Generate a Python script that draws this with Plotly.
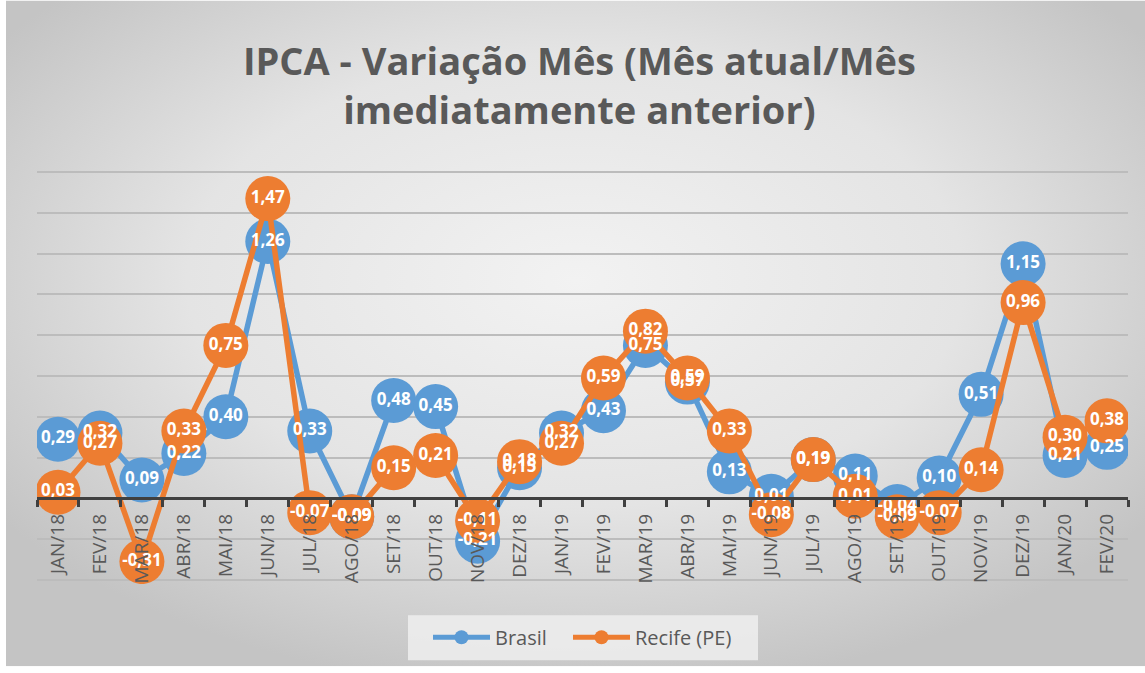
import base64
import plotly.graph_objects as go

meses = ["JAN/18", "FEV/18", "MAR/18", "ABR/18", "MAI/18", "JUN/18", "JUL/18", "AGO/18",
         "SET/18", "OUT/18", "NOV/18", "DEZ/18", "JAN/19", "FEV/19", "MAR/19", "ABR/19",
         "MAI/19", "JUN/19", "JUL/19", "AGO/19", "SET/19", "OUT/19", "NOV/19", "DEZ/19",
         "JAN/20", "FEV/20"]
brasil = [0.29, 0.32, 0.09, 0.22, 0.40, 1.26, 0.33, -0.09, 0.48, 0.45, -0.21, 0.15, 0.32,
          0.43, 0.75, 0.57, 0.13, 0.01, 0.19, 0.11, -0.04, 0.10, 0.51, 1.15, 0.21, 0.25]
recife = [0.03, 0.27, -0.31, 0.33, 0.75, 1.47, -0.07, -0.09, 0.15, 0.21, -0.11, 0.18, 0.27,
          0.59, 0.82, 0.59, 0.33, -0.08, 0.19, 0.01, -0.09, -0.07, 0.14, 0.96, 0.30, 0.38]
series_names = ["Brasil", "Recife (PE)"]

BLUE = "#5b9bd5"
ORANGE = "#ed7d31"
GRAY_TXT = "#595959"
FONT = "Open Sans"

W, H = 1145, 673
YMIN, YMAX = -0.42, 1.62
UNIT = 204.0          # px per unit on y
ZERO_PX = 498.0       # pixel row of y = 0
ML, MR = 37, 17
MT = ZERO_PX - YMAX * UNIT
MB = H - (ZERO_PX - YMIN * UNIT)


def fmt(v):
    return f"{v:.2f}".replace(".", ",")


fig = go.Figure()
cols = [BLUE, ORANGE]
for name, vals, col in zip(series_names, [brasil, recife], cols):
    fig.add_trace(go.Scatter(
        x=meses, y=vals, mode="lines+markers", name=name, showlegend=False,
        line=dict(color=col, width=5.5),
        marker=dict(size=45, color=col),
        hoverinfo="skip"))
for name, vals, col in zip(series_names, [brasil, recife], cols):
    fig.add_trace(go.Scatter(
        x=meses, y=vals, mode="text", showlegend=False,
        text=[fmt(v) for v in vals], textposition="middle center",
        textfont=dict(family=FONT, size=17, color="white", weight="bold"),
        hoverinfo="skip"))

pw = W - ML - MR
ph = H - MT - MB


def px_to_paper_x(p):
    return (p - ML) / pw


def px_to_paper_y(p):
    return (H - MB - p) / ph


# gradient background
svg = f'''<svg xmlns="http://www.w3.org/2000/svg" width="{W}" height="{H}" viewBox="0 0 {W} {H}" preserveAspectRatio="none">
<defs><radialGradient id="g" cx="0.5" cy="0.42" r="0.62" gradientUnits="objectBoundingBox">
<stop offset="0" stop-color="#f2f2f2"/><stop offset="0.55" stop-color="#e4e4e4"/><stop offset="1" stop-color="#c4c4c4"/>
</radialGradient></defs>
<rect x="0" y="0" width="{W}" height="{H}" fill="url(#g)"/></svg>'''
src = "data:image/svg+xml;base64," + base64.b64encode(svg.encode()).decode()

x0 = px_to_paper_x(6)
x1 = px_to_paper_x(W)
ytop = px_to_paper_y(0)
ybot = px_to_paper_y(666)
fig.add_layout_image(dict(
    source=src, xref="paper", yref="paper", x=x0, y=ytop,
    sizex=x1 - x0, sizey=ytop - ybot, sizing="stretch",
    xanchor="left", yanchor="top", layer="below"))

# custom legend (box, symbols, labels)
shapes = [dict(type="rect", xref="paper", yref="paper",
               x0=px_to_paper_x(408), x1=px_to_paper_x(758),
               y0=px_to_paper_y(660), y1=px_to_paper_y(615),
               fillcolor="rgba(238,238,238,0.85)", line=dict(width=0), layer="below")]
annotations = []
ly = 637
leg_items = [(series_names[0], BLUE, 433, 490), (series_names[1], ORANGE, 573, 630)]
for name, col, lx0, lx1 in leg_items:
    shapes.append(dict(type="line", xref="paper", yref="paper",
                       x0=px_to_paper_x(lx0), x1=px_to_paper_x(lx1),
                       y0=px_to_paper_y(ly), y1=px_to_paper_y(ly),
                       line=dict(color=col, width=5)))
    cx = (lx0 + lx1) / 2
    shapes.append(dict(type="circle", xref="paper", yref="paper",
                       x0=px_to_paper_x(cx - 7), x1=px_to_paper_x(cx + 7),
                       y0=px_to_paper_y(ly + 7), y1=px_to_paper_y(ly - 7),
                       fillcolor=col, line=dict(width=0)))
    annotations.append(dict(text=name, xref="paper", yref="paper",
                            x=px_to_paper_x(lx1 + 3), y=px_to_paper_y(ly),
                            xanchor="left", yanchor="middle", showarrow=False,
                            font=dict(family=FONT, size=20, color=GRAY_TXT)))

fig.update_layout(
    width=W, height=H,
    margin=dict(l=ML, r=MR, t=MT, b=MB, autoexpand=False),
    paper_bgcolor="white", plot_bgcolor="rgba(0,0,0,0)",
    title=dict(text="<b>IPCA - Variação Mês (Mês atual/Mês<br>imediatamente anterior)</b>",
               x=0.506, xanchor="center", y=0.889, yanchor="top",
               font=dict(family=FONT, size=38, color=GRAY_TXT)),
    showlegend=False,
    shapes=shapes,
    annotations=annotations,
    xaxis=dict(type="category", anchor="free", position=(0 - YMIN) / (YMAX - YMIN),
               range=[-0.5, len(meses) - 0.5],
               automargin=False,
               showline=True, linecolor="#404040", linewidth=3,
               ticks="outside", tickson="boundaries", ticklen=7, tickwidth=3,
               tickcolor="#404040", tickangle=-90, ticklabelstandoff=6,
               tickfont=dict(family=FONT, size=19, color=GRAY_TXT),
               showgrid=False, fixedrange=True),
    yaxis=dict(range=[YMIN, YMAX], dtick=0.2, tick0=0, showticklabels=False, automargin=False,
               showgrid=True, gridcolor="#bcbcbc", gridwidth=2,
               zeroline=False, fixedrange=True),
)

fig.write_html("out.html", config={"displayModeBar": False},
               post_script="document.body.style.margin='0px';document.body.style.overflow='hidden';")
